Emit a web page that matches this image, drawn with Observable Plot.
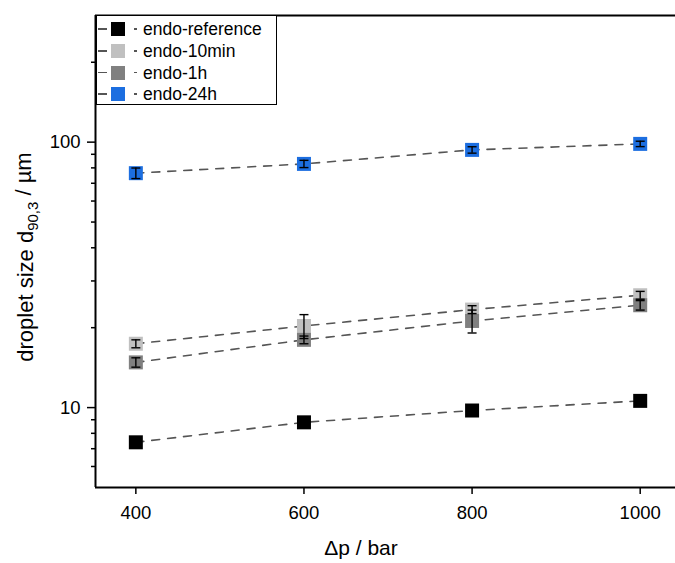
<!DOCTYPE html>
<html><head><meta charset="utf-8">
<script src="https://cdn.jsdelivr.net/npm/d3@7"></script>
<script src="https://cdn.jsdelivr.net/npm/@observablehq/plot@0.6"></script>
<style>
body{margin:0;background:#fff;font-family:"Liberation Sans",Arial,sans-serif;}
#wrap{position:relative;width:675px;height:563px;overflow:hidden;}
#legend{position:absolute;left:96px;top:15px;width:181px;height:90px;border:1.5px solid #000;background:#fff;box-sizing:border-box;}
.row{position:absolute;left:0;height:22px;width:100%;}
.seg{position:absolute;height:1.6px;background:#555;}
.sq{position:absolute;width:14px;height:14px;}
.lab{position:absolute;left:46px;font-size:17.5px;line-height:18px;color:#000;white-space:nowrap;}
</style></head><body><div id="wrap"><div id="chart"></div><div id="legend"></div></div>
<script>
const pressure = [400, 600, 800, 1000];
const seriesNames = ["endo-reference", "endo-10min", "endo-1h", "endo-24h"];
const seriesColors = ["#000000", "#c0c0c0", "#808080", "#1c6ee0"];
const endoReference = [7.4, 8.8, 9.75, 10.6];
const endoReferenceErr = [0.15, 0.2, 0.15, 0.15];
const endo10min = [17.4, 20.3, 23.4, 26.5];
const endo10minErr = [0.6, 2.1, 0.8, 0.9];
const endo1h = [14.8, 18.0, 21.2, 24.3];
const endo1hErr = [0.6, 0.6, 2.1, 1.0];
const endo24h = [76.4, 82.8, 93.5, 98.5];
const endo24hErr = [3.5, 2.6, 2.6, 2.3];
const xTicks = [400, 600, 800, 1000];
const yMajorTicks = [10, 100];
const yMinorTicks = [6, 7, 8, 9, 20, 30, 40, 50, 60, 70, 80, 90, 200];
const xDomain = [352, 1042];
const yDomain = [5, 300];
const xLabel = "Δp / bar";

const values = [endoReference, endo10min, endo1h, endo24h];
const errs = [endoReferenceErr, endo10minErr, endo1hErr, endo24hErr];
const rows = [];
seriesNames.forEach((name, i) => pressure.forEach((p, j) =>
  rows.push({series: name, x: p, y: values[i][j], err: errs[i][j]})));

const capSymbol = {draw(ctx) { ctx.moveTo(-4.5, 0); ctx.lineTo(4.5, 0); }};
const FONT = '"Liberation Sans", Arial, sans-serif';

const plot = Plot.plot({
  width: 675, height: 563,
  marginLeft: 95, marginRight: 0, marginTop: 15, marginBottom: 76,
  style: {fontFamily: FONT, fontSize: "18.5px", color: "#000", background: "transparent", overflow: "hidden"},
  x: {domain: xDomain},
  y: {type: "log", domain: yDomain},
  color: {domain: seriesNames, range: seriesColors},
  marks: [
    Plot.axisX({ticks: xTicks, tickSize: 7, tickPadding: 11, strokeWidth: 1.5, label: null, tickFormat: d => String(d), fontSize: 18.5}),
    Plot.axisY({ticks: yMajorTicks, tickSize: 8, tickPadding: 7, strokeWidth: 1.5, label: null, tickFormat: d => String(d), fontSize: 18.5}),
    Plot.axisY({ticks: yMinorTicks, tickSize: 4, strokeWidth: 1.5, label: null, tickFormat: () => ""}),
    Plot.ruleY([yDomain[0]], {stroke: "#000", strokeWidth: 2}),
    Plot.ruleY([yDomain[1]], {stroke: "#000", strokeWidth: 2}),
    Plot.ruleX([xDomain[0]], {stroke: "#000", strokeWidth: 2}),
    Plot.line(rows, {x: "x", y: "y", z: "series", stroke: "#555", strokeWidth: 1.6, strokeDasharray: "8,8"}),
    Plot.dot(rows, {x: "x", y: "y", fill: "series", symbol: "square", r: 7.9}),
    Plot.ruleX(rows, {x: "x", y1: d => d.y - d.err, y2: d => d.y + d.err, stroke: "#000", strokeWidth: 1.4}),
    Plot.dot(rows, {x: "x", y: d => d.y - d.err, symbol: capSymbol, stroke: "#000", fill: "none", strokeWidth: 1.4}),
    Plot.dot(rows, {x: "x", y: d => d.y + d.err, symbol: capSymbol, stroke: "#000", fill: "none", strokeWidth: 1.4})
  ]
});
document.getElementById("chart").appendChild(plot);

const svg = d3.select(plot);
svg.append("text")
  .attr("x", 361).attr("y", 555)
  .attr("text-anchor", "middle")
  .style("font-family", FONT).style("font-size", "21px").attr("fill", "#000")
  .text(xLabel);

const yl = svg.append("text")
  .attr("transform", "translate(33,257) rotate(-90)")
  .attr("text-anchor", "middle")
  .style("font-family", FONT).style("font-size", "22px").attr("fill", "#000");
yl.append("tspan").text("droplet size d");
yl.append("tspan").attr("dy", "0.3em").style("font-size", "15px").text("90,3");
yl.append("tspan").attr("dy", "-0.3em").text(" / µm");

// legend
const legend = document.getElementById("legend");
seriesNames.forEach((name, i) => {
  const row = document.createElement("div");
  row.className = "row";
  row.style.top = (2.3 + i * 21.7) + "px";
  row.innerHTML =
    `<div class="seg" style="left:1px;width:9px;top:10px"></div>` +
    `<div class="sq" style="left:14px;top:4px;background:${seriesColors[i]}"></div>` +
    `<div class="seg" style="left:37px;width:3px;top:10px"></div>` +
    `<div class="lab" style="top:2px">${name}</div>`;
  legend.appendChild(row);
});
</script></body></html>
